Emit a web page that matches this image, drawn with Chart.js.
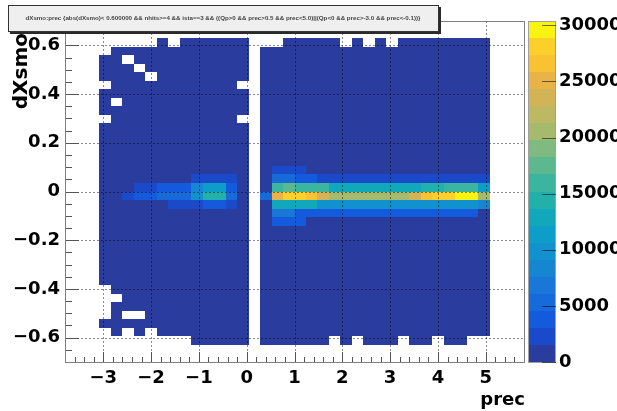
<!DOCTYPE html>
<html>
<head>
<meta charset="utf-8">
<script src="https://cdn.jsdelivr.net/npm/chart.js@4.4.0/dist/chart.umd.min.js"></script>
<style>
    html, body { margin: 0; padding: 0; background: #fff; }
    canvas { display: block; }
</style>
</head>
<body>
<canvas id="grafico" width="617" height="411"></canvas>
<script>
// binning of the 2D histogram (40 x 40 bins)
var xRange = [-3.8, 5.8];
var yRange = [-0.7, 0.7];
var nBinsX = 40;
var nBinsY = 40;

var xTickValues = [-3, -2, -1, 0, 1, 2, 3, 4, 5];
var yTickValues = [-0.6, -0.4, -0.2, 0, 0.2, 0.4, 0.6];
var zTickValues = [0, 5000, 10000, 15000, 20000, 25000, 30000];

var titulo = 'dXsmo:prec {abs(dXsmo)< 0.600000 && nhits>=4 && ista==3 && ((Qp>0 && prec>0.5 && prec<5.0)||(Qp<0 && prec>-3.0 && prec<-0.1))}';
var xTitle = 'prec';
var yTitle = 'dXsmo';

// bin contents, one row per y bin, from the top bin (y bin 39) down to y bin 0; 40 x bins per row
var counts = [
    [0,0,0, 0,0,0,0,0,0,0,0,0,0,0,0,0, 0, 0,0,0,0,0,0,0,0,0,0,0,0,0,0,0,0,0,0,0,0, 0,0,0],
    [0,0,0, 0,0,0,0,0,0,0,0,0,0,0,0,0, 0, 0,0,0,0,0,0,0,0,0,0,0,0,0,0,0,0,0,0,0,0, 0,0,0],
    [0,0,0, 0,0,0,0,0,400,0,400,400,400,400,400,400, 0, 0,0,400,400,400,400,400,0,400,0,400,0,400,400,400,400,400,400,400,400, 0,0,0],
    [0,0,0, 0,400,400,400,400,400,400,400,400,400,400,400,400, 0, 400,400,400,400,400,400,400,400,400,400,400,400,400,400,400,400,400,400,400,400, 0,0,0],
    [0,0,0, 400,400,0,400,400,400,400,400,400,400,400,400,400, 0, 400,400,400,400,400,400,400,400,400,400,400,400,400,400,400,400,400,400,400,400, 0,0,0],
    [0,0,0, 400,400,400,0,400,400,400,400,400,400,400,400,400, 0, 400,400,400,400,400,400,400,400,400,400,400,400,400,400,400,400,400,400,400,400, 0,0,0],
    [0,0,0, 400,400,400,400,0,400,400,400,400,400,400,400,400, 0, 400,400,400,400,400,400,400,400,400,400,400,400,400,400,400,400,400,400,400,400, 0,0,0],
    [0,0,0, 0,400,400,400,400,400,400,400,400,400,400,400,0, 0, 400,400,400,400,400,400,400,400,400,400,400,400,400,400,400,400,400,400,400,400, 0,0,0],
    [0,0,0, 400,400,400,400,400,400,400,400,400,400,400,400,400, 0, 400,400,400,400,400,400,400,400,400,400,400,400,400,400,400,400,400,400,400,400, 0,0,0],
    [0,0,0, 400,0,400,400,400,400,400,400,400,400,400,400,400, 0, 400,400,400,400,400,400,400,400,400,400,400,400,400,400,400,400,400,400,400,400, 0,0,0],
    [0,0,0, 400,400,400,400,400,400,400,400,400,400,400,400,400, 0, 400,400,400,400,400,400,400,400,400,400,400,400,400,400,400,400,400,400,400,400, 0,0,0],
    [0,0,0, 0,400,400,400,400,400,400,400,400,400,400,400,0, 0, 400,400,400,400,400,400,400,400,400,400,400,400,400,400,400,400,400,400,400,400, 0,0,0],
    [0,0,0, 400,400,400,400,400,400,400,400,400,400,400,400,400, 0, 400,400,400,400,400,400,400,400,400,400,400,400,400,400,400,400,400,400,400,400, 0,0,0],
    [0,0,0, 400,400,400,400,400,400,400,400,400,400,400,400,400, 0, 400,400,400,400,400,400,400,400,400,400,400,400,400,400,400,400,400,400,400,400, 0,0,0],
    [0,0,0, 400,400,400,400,400,400,400,400,400,400,400,400,400, 0, 400,400,400,400,400,400,400,400,400,400,400,400,400,400,400,400,400,400,400,400, 0,0,0],
    [0,0,0, 400,400,400,400,400,400,400,400,400,400,400,400,400, 0, 400,400,400,400,400,400,400,400,400,400,400,400,400,400,400,400,400,400,400,400, 0,0,0],
    [0,0,0, 400,400,400,400,400,400,400,400,400,400,400,400,400, 0, 400,400,400,400,400,400,400,400,400,400,400,400,400,400,400,400,400,400,400,400, 0,0,0],
    [0,0,0, 400,400,400,400,400,400,400,400,400,400,400,400,400, 0, 400,2200,2200,2200,400,400,400,400,400,400,400,400,400,400,400,400,400,400,400,400, 0,0,0],
    [0,0,0, 400,400,400,400,400,400,400,400,2200,2200,2200,2200,400, 0, 400,5300,5300,3800,3800,2200,2200,2200,2200,2200,2200,2200,2200,2200,2200,2200,2200,2200,2200,2200, 0,0,0],
    [0,0,0, 400,400,400,2200,2200,3800,3800,3800,8000,12000,12000,3800,400, 0, 400,16500,18000,16000,15500,15500,13000,13000,13000,13000,13000,13000,13000,13000,14500,14500,16000,16000,16000,12000, 0,0,0],
    [0,0,0, 400,400,2200,3800,3800,5500,5500,5500,9500,14500,14500,5300,400, 0, 5300,25000,28000,28000,26500,23500,20500,20500,20500,20500,20500,20500,20500,23500,26500,28000,28200,30380,29900,20500, 0,0,0],
    [0,0,0, 400,400,400,400,400,400,2200,2200,2200,3800,3800,2200,400, 0, 400,13500,13500,13500,13500,10000,10000,10000,10000,10000,10000,10000,10000,10000,10000,10000,10000,10000,10000,8500, 0,0,0],
    [0,0,0, 400,400,400,400,400,400,400,400,400,400,400,400,400, 0, 400,7000,7000,4000,4000,4000,4000,4000,4000,4000,4000,4000,4000,4000,4000,4000,4000,4000,4000,400, 0,0,0],
    [0,0,0, 400,400,400,400,400,400,400,400,400,400,400,400,400, 0, 400,3800,3800,3800,400,400,400,400,400,400,400,400,400,400,400,400,400,400,400,400, 0,0,0],
    [0,0,0, 400,400,400,400,400,400,400,400,400,400,400,400,400, 0, 400,400,400,400,400,400,400,400,400,400,400,400,400,400,400,400,400,400,400,400, 0,0,0],
    [0,0,0, 400,400,400,400,400,400,400,400,400,400,400,400,400, 0, 400,400,400,400,400,400,400,400,400,400,400,400,400,400,400,400,400,400,400,400, 0,0,0],
    [0,0,0, 400,400,400,400,400,400,400,400,400,400,400,400,400, 0, 400,400,400,400,400,400,400,400,400,400,400,400,400,400,400,400,400,400,400,400, 0,0,0],
    [0,0,0, 400,400,400,400,400,400,400,400,400,400,400,400,400, 0, 400,400,400,400,400,400,400,400,400,400,400,400,400,400,400,400,400,400,400,400, 0,0,0],
    [0,0,0, 400,400,400,400,400,400,400,400,400,400,400,400,400, 0, 400,400,400,400,400,400,400,400,400,400,400,400,400,400,400,400,400,400,400,400, 0,0,0],
    [0,0,0, 400,400,400,400,400,400,400,400,400,400,400,400,400, 0, 400,400,400,400,400,400,400,400,400,400,400,400,400,400,400,400,400,400,400,400, 0,0,0],
    [0,0,0, 400,400,400,400,400,400,400,400,400,400,400,400,400, 0, 400,400,400,400,400,400,400,400,400,400,400,400,400,400,400,400,400,400,400,400, 0,0,0],
    [0,0,0, 0,400,400,400,400,400,400,400,400,400,400,400,400, 0, 400,400,400,400,400,400,400,400,400,400,400,400,400,400,400,400,400,400,400,400, 0,0,0],
    [0,0,0, 0,0,400,400,400,400,400,400,400,400,400,400,400, 0, 400,400,400,400,400,400,400,400,400,400,400,400,400,400,400,400,400,400,400,400, 0,0,0],
    [0,0,0, 0,400,400,400,400,400,400,400,400,400,400,400,400, 0, 400,400,400,400,400,400,400,400,400,400,400,400,400,400,400,400,400,400,400,400, 0,0,0],
    [0,0,0, 0,400,0,0,400,400,400,400,400,400,400,400,400, 0, 400,400,400,400,400,400,400,400,400,400,400,400,400,400,400,400,400,400,400,400, 0,0,0],
    [0,0,0, 400,400,400,400,400,400,400,400,400,400,400,400,400, 0, 400,400,400,400,400,400,400,400,400,400,400,400,400,400,400,400,400,400,400,400, 0,0,0],
    [0,0,0, 0,400,0,400,0,400,400,400,400,400,400,400,400, 0, 400,400,400,400,400,400,400,400,400,400,400,400,400,400,400,400,400,400,400,400, 0,0,0],
    [0,0,0, 0,0,0,0,0,0,0,0,400,400,400,400,400, 0, 400,400,400,400,400,400,0,400,0,400,400,400,0,400,400,0,400,400,0,0, 0,0,0],
    [0,0,0, 0,0,0,0,0,0,0,0,0,0,0,0,0, 0, 0,0,0,0,0,0,0,0,0,0,0,0,0,0,0,0,0,0,0,0, 0,0,0],
    [0,0,0, 0,0,0,0,0,0,0,0,0,0,0,0,0, 0, 0,0,0,0,0,0,0,0,0,0,0,0,0,0,0,0,0,0,0,0, 0,0,0]
];

// 20 colour levels, bird-like palette
var paleta = [
    '#2a3d9e', '#1a49c9', '#145adc', '#176ada', '#1977d8',
    '#1686d3', '#1192cf', '#0c9ec8', '#12a8bc', '#22b0ab',
    '#3bb59e', '#5cb88f', '#7fba80', '#a5ba6c', '#bdb862',
    '#d2b456', '#e8b448', '#f9c232', '#fcd02a', '#f9f312'
];

var dx = (xRange[1] - xRange[0]) / nBinsX;
var dy = (yRange[1] - yRange[0]) / nBinsY;
var zMax = Math.max.apply(null, counts.map(function (r) { return Math.max.apply(null, r); }));

function limpa(v)
{
    return Math.round(v * 1e6) / 1e6;
}

// one point per filled bin, with its bin edges
var celulas = [];
counts.forEach(function (linha, i) {
    linha.forEach(function (v, b) {
        if (v > 0) {
            celulas.push({
                x: limpa(xRange[0] + (b + 0.5) * dx),
                y: limpa(yRange[1] - (i + 0.5) * dy),
                x0: limpa(xRange[0] + b * dx),
                x1: limpa(xRange[0] + (b + 1) * dx),
                y0: limpa(yRange[1] - (i + 1) * dy),
                y1: limpa(yRange[1] - i * dy),
                v: v
            });
        }
    });
});

function corDoNivel(v)
{
    var n = Math.min(paleta.length - 1, Math.floor(v / zMax * paleta.length));
    return paleta[n];
}

function formata(v)
{
    return String(v).replace('-', '\u2212');
}

// no extra room for the end labels: the frame is fixed
function semPadding(s)
{
    s.paddingTop = 0;
    s.paddingBottom = 0;
    s.paddingLeft = 0;
    s.paddingRight = 0;
}

var fonteEixo = { family: 'DejaVu Sans', weight: 'bold', size: 18 };

var histo2d = {
    id: 'histo2d',
    beforeDatasetsDraw: function (chart) {
        var ctx = chart.ctx, xs = chart.scales.x, ys = chart.scales.y;
        ctx.save();
        chart.data.datasets[0].data.forEach(function (c) {
            var x0 = Math.round(xs.getPixelForValue(c.x0));
            var x1 = Math.round(xs.getPixelForValue(c.x1));
            var y0 = Math.round(ys.getPixelForValue(c.y1));
            var y1 = Math.round(ys.getPixelForValue(c.y0));
            ctx.fillStyle = corDoNivel(c.v);
            ctx.fillRect(x0, y0, x1 - x0, y1 - y0);
        });
        ctx.restore();
    },
    afterDatasetsDraw: function (chart) {
        var ctx = chart.ctx, xs = chart.scales.x, ys = chart.scales.y, a = chart.chartArea;
        ctx.save();
        ctx.lineWidth = 1;

        // dotted grid
        ctx.strokeStyle = 'rgba(0,0,0,0.45)';
        ctx.setLineDash([2, 2]);
        xTickValues.forEach(function (v) {
            var px = Math.round(xs.getPixelForValue(v)) + 0.5;
            ctx.beginPath(); ctx.moveTo(px, a.top); ctx.lineTo(px, a.bottom); ctx.stroke();
        });
        yTickValues.forEach(function (v) {
            var py = Math.round(ys.getPixelForValue(v)) + 0.5;
            ctx.beginPath(); ctx.moveTo(a.left, py); ctx.lineTo(a.right, py); ctx.stroke();
        });
        ctx.setLineDash([]);

        // tick marks inside the frame
        ctx.strokeStyle = '#555';
        for (var t = Math.ceil(xRange[0] / 0.2); t * 0.2 <= xRange[1] + 1e-9; t++) {
            var px = Math.round(xs.getPixelForValue(t * 0.2)) + 0.5;
            var len = (t % 5 === 0) ? 10 : 5;
            ctx.beginPath(); ctx.moveTo(px, a.bottom); ctx.lineTo(px, a.bottom - len); ctx.stroke();
        }
        for (var s = Math.ceil(yRange[0] / 0.05); s * 0.05 <= yRange[1] + 1e-9; s++) {
            var py = Math.round(ys.getPixelForValue(s * 0.05)) + 0.5;
            var l2 = (s % 4 === 0) ? 14 : 7;
            ctx.beginPath(); ctx.moveTo(a.left, py); ctx.lineTo(a.left + l2, py); ctx.stroke();
        }

        // frame
        ctx.strokeStyle = '#808080';
        ctx.strokeRect(Math.round(a.left) + 0.5, Math.round(a.top) + 0.5, Math.round(a.right - a.left), Math.round(a.bottom - a.top));
        ctx.restore();
    },
    afterDraw: function (chart) {
        var ctx = chart.ctx, zs = chart.scales.z, a = chart.chartArea;
        ctx.save();

        // palette
        var pl = Math.round(a.right) + 4, pw = 28;
        for (var i = 0; i < paleta.length; i++) {
            var yTop = zs.getPixelForValue((i + 1) * zMax / paleta.length);
            var yBot = zs.getPixelForValue(i * zMax / paleta.length);
            ctx.fillStyle = paleta[i];
            ctx.fillRect(pl, Math.round(yTop), pw, Math.round(yBot) - Math.round(yTop));
        }
        ctx.strokeStyle = '#a0a0a0';
        ctx.lineWidth = 1;
        ctx.strokeRect(pl + 0.5, Math.round(a.top) + 0.5, pw - 1, Math.round(a.bottom - a.top));
        ctx.strokeStyle = 'rgba(0,0,0,0.55)';
        zTickValues.forEach(function (v) {
            var py = Math.round(zs.getPixelForValue(v)) + 0.5;
            ctx.beginPath(); ctx.moveTo(pl + pw - 14, py); ctx.lineTo(pl + pw, py); ctx.stroke();
        });

        // axis titles
        ctx.fillStyle = '#000';
        ctx.font = 'bold 18px "DejaVu Sans"';
        ctx.textAlign = 'right';
        ctx.textBaseline = 'alphabetic';
        ctx.fillText(xTitle, Math.round(a.right) + 1, 405);

        ctx.save();
        ctx.font = 'bold 20px "DejaVu Sans"';
        ctx.translate(27, 33);
        ctx.rotate(-Math.PI / 2);
        ctx.textAlign = 'right';
        ctx.fillText(yTitle, 0, 0);
        ctx.restore();

        // title box with shadow
        ctx.fillStyle = '#2a2a2a';
        ctx.fillRect(10, 7, 431, 27);
        ctx.fillStyle = '#efefef';
        ctx.fillRect(8, 5, 431, 27);
        ctx.strokeStyle = '#333';
        ctx.strokeRect(8.5, 5.5, 430, 26);

        ctx.font = 'bold 6px "Liberation Sans"';
        var w = ctx.measureText(titulo).width;
        ctx.fillStyle = '#444';
        ctx.textAlign = 'center';
        ctx.textBaseline = 'middle';
        ctx.translate(223, 18.5);
        ctx.scale(395 / w, 1);
        ctx.fillText(titulo, 0, 0);
        ctx.restore();
    }
};

var config = {
    type: 'scatter',
    data: {
        datasets: [{
            label: 'dXsmo:prec',
            data: celulas,
            pointRadius: 0,
            pointHoverRadius: 0,
            pointHitRadius: 0
        }]
    },
    options: {
        responsive: false,
        maintainAspectRatio: false,
        animation: false,
        events: [],
        layout: { padding: { top: 21, left: 0, right: 0, bottom: 0 } },
        plugins: {
            legend: { display: false },
            tooltip: { enabled: false }
        },
        scales: {
            x: {
                type: 'linear',
                position: 'bottom',
                min: xRange[0],
                max: xRange[1],
                grid: { display: false, drawTicks: false },
                border: { display: false },
                afterBuildTicks: function (s) { s.ticks = xTickValues.map(function (v) { return { value: v }; }); },
                afterFit: function (s) { s.height = 49; semPadding(s); },
                ticks: {
                    autoSkip: false,
                    maxRotation: 0,
                    padding: 6,
                    color: '#000',
                    font: fonteEixo,
                    callback: function (v) { return formata(v); }
                }
            },
            y: {
                type: 'linear',
                position: 'left',
                min: yRange[0],
                max: yRange[1],
                grid: { display: false, drawTicks: false },
                border: { display: false },
                afterBuildTicks: function (s) { s.ticks = yTickValues.map(function (v) { return { value: v }; }); },
                afterFit: function (s) { s.width = 65; semPadding(s); },
                ticks: {
                    autoSkip: false,
                    padding: 5,
                    color: '#000',
                    font: fonteEixo,
                    callback: function (v) { return formata(v); }
                }
            },
            z: {
                type: 'linear',
                axis: 'y',
                position: 'right',
                min: 0,
                max: zMax,
                grid: { display: false, drawTicks: false },
                border: { display: false },
                afterBuildTicks: function (s) { s.ticks = zTickValues.map(function (v) { return { value: v }; }); },
                afterFit: function (s) { s.width = 93; semPadding(s); },
                ticks: {
                    autoSkip: false,
                    padding: 35,
                    color: '#000',
                    font: fonteEixo,
                    callback: function (v) { return String(v); }
                }
            }
        }
    },
    plugins: [histo2d]
};

var grafico = new Chart(document.getElementById('grafico'), config);
</script>
</body>
</html>
